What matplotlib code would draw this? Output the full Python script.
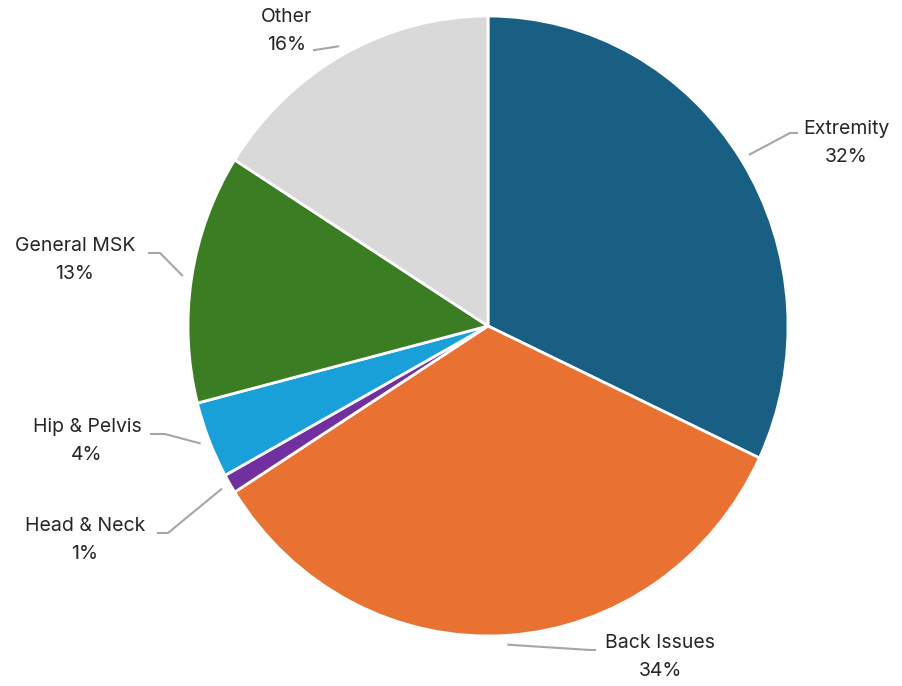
import numpy as np
import matplotlib.pyplot as plt

# Data
categories = ['Extremity', 'Back Issues', 'Head & Neck', 'Hip & Pelvis', 'General MSK', 'Other']
shares = [32, 34, 1, 4, 13, 16]
colors = ['#195e83', '#e97132', '#7030a0', '#1aa0d8', '#3b7d23', '#d9d9d9']

# layout of labels (pixel coords of the reference: text centre, elbow, end of leader)
W, H, CX, CY, RX, RY = 902, 686, 488, 326, 300, 310
label_pos = [(846, 143), (660, 657), (85, 540), (87, 441), (75, 260), (287, 31)]
elbows = [(790, 133), (590, 650), (168, 533), (165, 434), (160, 253), (315, 50)]
ends = [(798, 133), (596, 650), (157, 533), (150, 434), (148, 253), (313, 50)]


def to_data(p):
    return ((p[0] - CX) / RX, (CY - p[1]) / RY)


plt.rcParams['font.family'] = ['Inter', 'DejaVu Sans']

fig = plt.figure(figsize=(W / 100, H / 100), dpi=100)
ax = fig.add_axes([0, 0, 1, 1])
wedges, _ = ax.pie(shares, colors=colors, startangle=90, counterclock=False, radius=1,
                   wedgeprops=dict(edgecolor='white', linewidth=2))
ax.set_xlim(-CX / RX, (W - CX) / RX)
ax.set_ylim(-(H - CY) / RY, CY / RY)
ax.set_aspect('auto')
ax.axis('off')

for w, cat, val, lp, el, en in zip(wedges, categories, shares, label_pos, elbows, ends):
    mid = np.deg2rad((w.theta1 + w.theta2) / 2)
    sx, sy = 1.03 * np.cos(mid), 1.03 * np.sin(mid)
    ex, ey = to_data(el)
    nx, ny = to_data(en)
    ax.plot([sx, ex, nx], [sy, ey, ny], color='#a6a6a6', lw=1.5, solid_capstyle='butt')
    tx, ty = to_data(lp)
    ax.text(tx, ty, f'{cat}\n{val}%', ha='center', va='center', fontsize=14,
            color='#262626', linespacing=1.65)

fig.savefig('out.png', dpi=100)
